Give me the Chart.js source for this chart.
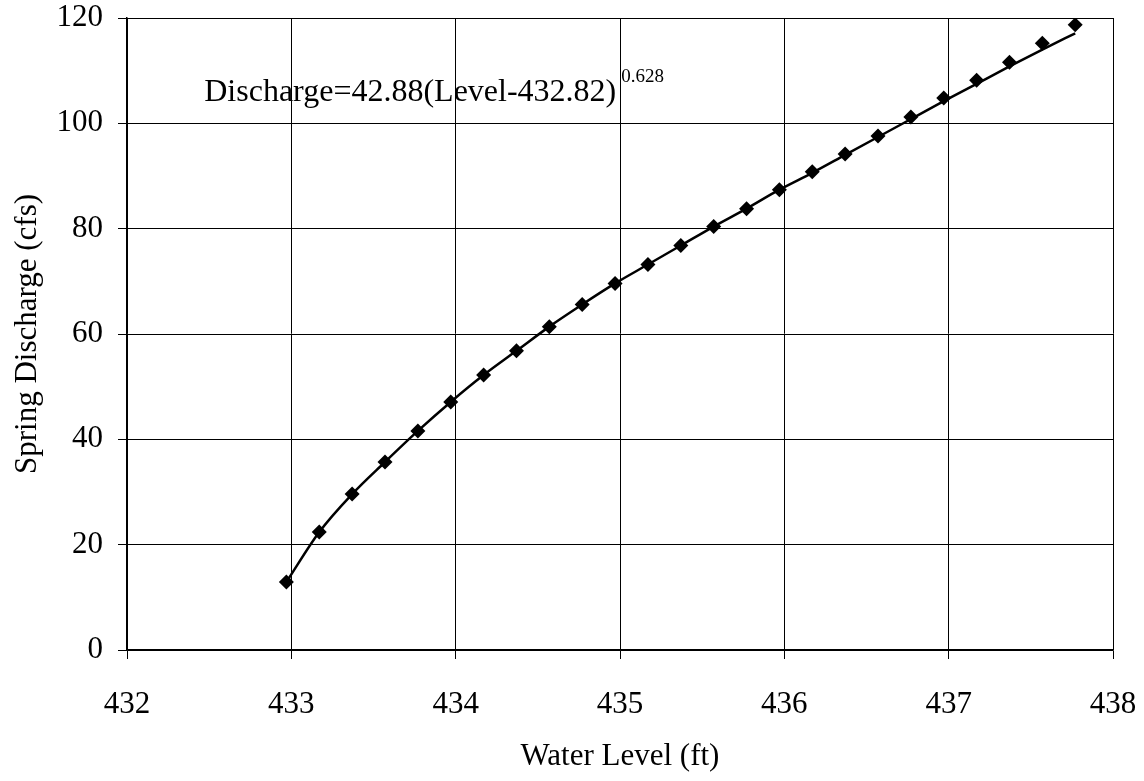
<!DOCTYPE html>
<html>
<head>
<meta charset="utf-8">
<script src="https://cdn.jsdelivr.net/npm/chart.js@4/dist/chart.umd.min.js"></script>
<style>
    html, body { margin: 0; padding: 0; background: #fff; }
    #wrap { width: 1144px; height: 781px; }
</style>
</head>
<body>
<div id="wrap"><canvas id="chart"></canvas></div>
<script>
// measured points (water level ft, discharge cfs)
const levels = [432.97, 433.17, 433.37, 433.57, 433.77, 433.97, 434.17, 434.37, 434.57, 434.77,
    434.97, 435.17, 435.37, 435.57, 435.77, 435.97, 436.17, 436.37, 436.57, 436.77,
    436.97, 437.17, 437.37, 437.57, 437.77];
const discharge = [12.9, 22.4, 29.6, 35.7, 41.6, 47.1, 52.2, 56.8, 61.4, 65.6,
    69.6, 73.2, 76.8, 80.4, 83.8, 87.4, 90.8, 94.2, 97.6, 101.2,
    104.8, 108.2, 111.6, 115.2, 118.7];
// fitted curve
const fitLine = [12.9, 22.4, 29.6, 35.7, 41.6, 47.1, 52.2, 56.8, 61.4, 65.6,
    69.6, 73.2, 76.8, 80.4, 83.8, 87.4, 90.6, 94.0, 97.4, 100.8,
    104.2, 107.5, 110.8, 114.0, 117.1];

const xTicks = [432, 433, 434, 435, 436, 437, 438];
const yTicks = [0, 20, 40, 60, 80, 100, 120];

const equationText = 'Discharge=42.88(Level-432.82)';
const equationExp = '0.628';
const equationAt = { x: 432.47, y: 104.2 };

const FONT = "'Liberation Serif', 'Times New Roman', serif";

function toPoints(xs, ys) {
    return xs.map((x, i) => ({ x: x, y: ys[i] }));
}

const equationPlugin = {
    id: 'equation',
    afterDatasetsDraw(chart) {
        const ctx = chart.ctx;
        const px = chart.scales.x.getPixelForValue(equationAt.x);
        const py = chart.scales.y.getPixelForValue(equationAt.y);
        ctx.save();
        ctx.fillStyle = '#000';
        ctx.textBaseline = 'alphabetic';
        ctx.textAlign = 'left';
        ctx.font = '32px ' + FONT;
        ctx.fillText(equationText, px, py);
        const w = ctx.measureText(equationText).width;
        ctx.font = '19px ' + FONT;
        ctx.fillText(equationExp, px + w + 5, py - 19);
        ctx.restore();
    }
};

new Chart(document.getElementById('chart'), {
    type: 'scatter',
    data: {
        datasets: [
            {
                label: 'Fit',
                type: 'line',
                data: toPoints(levels, fitLine),
                borderColor: '#000',
                borderWidth: 2.5,
                pointRadius: 0,
                tension: 0.4,
                cubicInterpolationMode: 'monotone',
                fill: false,
                order: 2
            },
            {
                label: 'Measured',
                data: toPoints(levels, discharge),
                pointStyle: 'rectRot',
                pointRadius: 7.5,
                backgroundColor: '#000',
                borderColor: '#000',
                borderWidth: 0,
                order: 1
            }
        ]
    },
    options: {
        responsive: true,
        maintainAspectRatio: false,
        animation: false,
        layout: { padding: { top: 18, right: 31, left: 0, bottom: 0 } },
        plugins: {
            legend: { display: false },
            tooltip: { enabled: false }
        },
        scales: {
            x: {
                type: 'linear',
                min: 432,
                max: 438,
                afterBuildTicks: s => { s.ticks = xTicks.map(v => ({ value: v })); },
                afterFit: s => { s.height = 131; s.paddingLeft = 0; s.paddingRight = 0; },
                grid: { color: '#000', lineWidth: 1, tickLength: 9, drawTicks: true },
                border: { color: '#000', width: 1.5 },
                ticks: { color: '#000', padding: 27, font: { family: FONT, size: 31 } },
                title: {
                    display: true,
                    text: 'Water Level (ft)',
                    color: '#000',
                    font: { family: FONT, size: 31 },
                    padding: { top: 0, bottom: 6 }
                }
            },
            y: {
                type: 'linear',
                min: 0,
                max: 120,
                afterBuildTicks: s => { s.ticks = yTicks.map(v => ({ value: v })); },
                afterFit: s => { s.width = 127; s.paddingTop = 0; s.paddingBottom = 0; },
                grid: { color: '#000', lineWidth: 1, tickLength: 9, drawTicks: true },
                border: { color: '#000', width: 1.5 },
                ticks: { color: '#000', padding: 15, font: { family: FONT, size: 31 } },
                title: {
                    display: true,
                    text: 'Spring Discharge (cfs)',
                    color: '#000',
                    font: { family: FONT, size: 31 },
                    padding: { top: 9, bottom: 0 }
                }
            }
        }
    },
    plugins: [equationPlugin]
});
</script>
</body>
</html>
